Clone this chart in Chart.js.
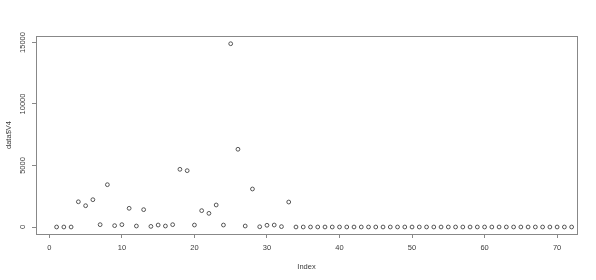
<!DOCTYPE html>
<html>
<head>
<meta charset="utf-8">
<script src="https://cdn.jsdelivr.net/npm/chart.js@4"></script>
<style>
html,body{margin:0;padding:0;background:#fff;}
#wrap{width:596px;height:280px;}
</style>
</head>
<body>
<div id="wrap"><canvas id="c" width="596" height="280"></canvas></div>
<script>
const indexes = [1,2,3,4,5,6,7,8,9,10,11,12,13,14,15,16,17,18,19,20,21,22,23,24,25,26,27,28,29,30,31,32,33,34,35,36,37,38,39,40,41,42,43,44,45,46,47,48,49,50,51,52,53,54,55,56,57,58,59,60,61,62,63,64,65,66,67,68,69,70,71,72];
const v4 = [0,0,0,2050,1730,2220,190,3440,110,190,1520,80,1410,50,160,80,190,4690,4580,160,1330,1110,1790,160,14900,6320,80,3090,20,140,160,30,2030,0,0,0,0,0,0,0,0,0,0,0,0,0,0,0,0,0,0,0,0,0,0,0,0,0,0,0,0,0,0,0,0,0,0,0,0,0,0,0];
const xTicks = [0,10,20,30,40,50,60,70];
const yTicks = [0,5000,10000,15000];
const yTickLabels = ["0","5000","10000","15000"];

const FONT = "'Liberation Sans', Arial, sans-serif";
const TXT = '#3a3a3a';
const AX = '#888';

const boxPlugin = {
  id: 'rbox',
  afterDraw(chart) {
    const ctx = chart.ctx, a = chart.chartArea;
    ctx.save();
    ctx.strokeStyle = AX;
    ctx.lineWidth = 1;
    ctx.strokeRect(Math.round(a.left) + 0.5, Math.round(a.top) + 0.5, Math.round(a.right - a.left), Math.round(a.bottom - a.top));
    const ys = chart.scales.y;
    ctx.fillStyle = TXT;
    ctx.font = '7.5px ' + FONT;
    ctx.textAlign = 'center';
    ctx.textBaseline = 'middle';
    yTicks.forEach((v, i) => {
      const py = ys.getPixelForValue(v);
      ctx.save();
      ctx.translate(23, py);
      ctx.rotate(-Math.PI / 2);
      ctx.fillText(yTickLabels[i], 0, 0);
      ctx.restore();
    });
    ctx.restore();
  }
};

new Chart(document.getElementById('c'), {
  type: 'scatter',
  data: {
    datasets: [{
      data: indexes.map((x, i) => ({x: x, y: v4[i]})),
      pointStyle: 'circle',
      pointRadius: 1.9,
      pointBorderWidth: 0.9,
      pointBorderColor: '#444',
      pointBackgroundColor: 'rgba(0,0,0,0)',
      pointHoverRadius: 1.9
    }]
  },
  options: {
    responsive: false,
    animation: false,
    events: [],
    layout: {padding: {top: 36, right: 19, left: 0, bottom: 0}},
    plugins: {legend: {display: false}, tooltip: {enabled: false}},
    scales: {
      x: {
        type: 'linear',
        min: -1.84,
        max: 72.74,
        afterBuildTicks: s => { s.ticks = xTicks.map(v => ({value: v})); },
        afterFit: s => { s.height = 46; },
        grid: {drawOnChartArea: false, drawTicks: true, tickLength: 4, color: AX, tickColor: AX},
        border: {display: false},
        ticks: {color: TXT, font: {family: FONT, size: 7.5}, padding: 5, maxRotation: 0, autoSkip: false},
        title: {display: true, text: 'Index', color: TXT, font: {family: FONT, size: 7.5}, padding: {top: 0, bottom: 9}}
      },
      y: {
        type: 'linear',
        min: -569,
        max: 15528,
        afterBuildTicks: s => { s.ticks = yTicks.map(v => ({value: v})); },
        afterFit: s => { s.width = 36; },
        grid: {drawOnChartArea: false, drawTicks: true, tickLength: 4, color: AX, tickColor: AX},
        border: {display: false},
        ticks: {display: true, color: 'rgba(0,0,0,0)', font: {family: FONT, size: 7.5}},
        title: {display: true, text: 'data$V4', color: TXT, font: {family: FONT, size: 7.5}, padding: {top: 4, bottom: 0}}
      }
    }
  },
  plugins: [boxPlugin]
});
</script>
</body>
</html>
